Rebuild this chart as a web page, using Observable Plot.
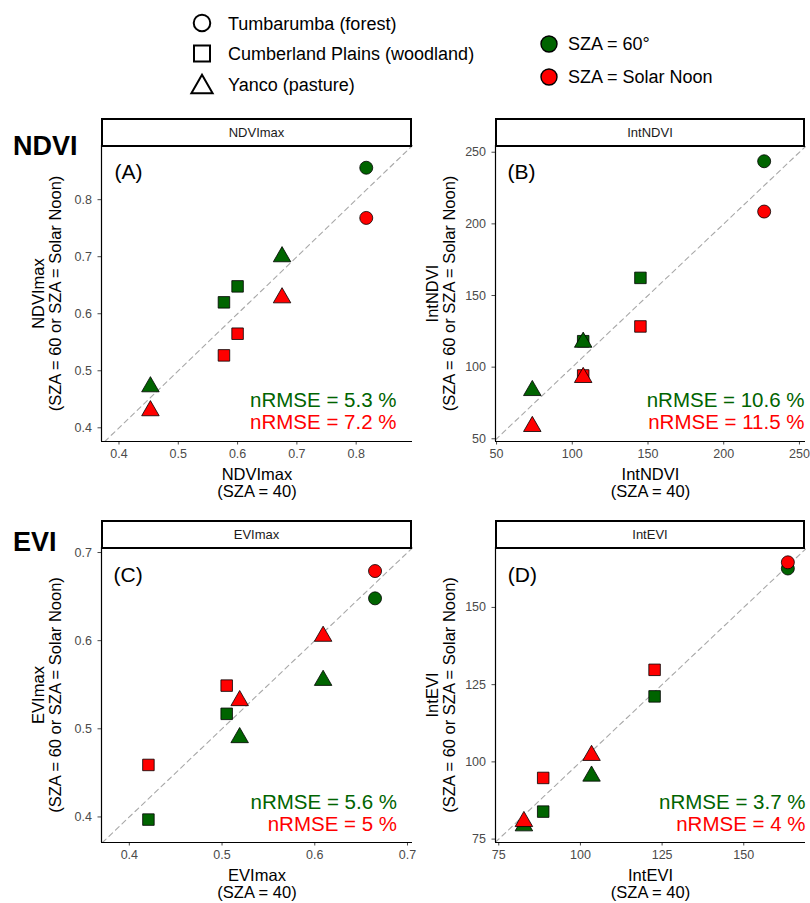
<!DOCTYPE html>
<html><head><meta charset="utf-8">
<script src="https://cdn.jsdelivr.net/npm/d3@7"></script>
<script src="https://cdn.jsdelivr.net/npm/@observablehq/plot@0.6"></script>
<style>
body{margin:0;background:#fff;font-family:"Liberation Sans",Arial,Helvetica,sans-serif;}
#wrap{position:relative;width:810px;height:903px;overflow:hidden;background:#fff;}
.pl{position:absolute;}
.strip{position:absolute;box-sizing:border-box;border:2px solid #000;background:#fff;font-size:13px;display:flex;align-items:center;justify-content:center;color:#1a1a1a;}
#overlay{position:absolute;left:0;top:0;}
</style></head><body><div id="wrap"></div>
<script>
// ---------- data ----------
const sites = ["Tumbarumba","Cumberland","Cumberland","Yanco","Yanco"];
const siteKeys = ["Tumbarumba","Cumberland","Yanco"];
const siteLabels = ["Tumbarumba (forest)","Cumberland Plains (woodland)","Yanco (pasture)"];
const seriesLabels = ["SZA = 60°","SZA = Solar Noon"];
const seriesColors = ["#006400","#ff0000"];

// (A) NDVImax
const ndviMaxX40   = [0.817, 0.577, 0.600, 0.453, 0.675];
const ndviMaxY60   = [0.856, 0.620, 0.648, 0.472, 0.700];
const ndviMaxYNoon = [0.768, 0.527, 0.565, 0.430, 0.628];
const ndviMaxTicks = [0.4, 0.5, 0.6, 0.7, 0.8];
const ndviMaxTickLabels = ["0.4","0.5","0.6","0.7","0.8"];
const ndviMaxNRMSE = ["5.3","7.2"];

// (B) IntNDVI
const intNdviX40   = [226.7, 107.2, 145.0, 73.6, 107.2];
const intNdviY60   = [243.7, 118.1, 162.3, 83.7, 117.4];
const intNdviYNoon = [208.6, 94.2, 128.4, 58.6, 92.8];
const intNdviTicks = [50, 100, 150, 200, 250];
const intNdviTickLabels = ["50","100","150","200","250"];
const intNdviNRMSE = ["10.6","11.5"];

// (C) EVImax
const eviMaxX40   = [0.665, 0.4206, 0.505, 0.519, 0.609];
const eviMaxY60   = [0.648, 0.397, 0.517, 0.490, 0.555];
const eviMaxYNoon = [0.679, 0.459, 0.549, 0.532, 0.605];
const eviMaxTicks = [0.4, 0.5, 0.6, 0.7];
const eviMaxTickLabels = ["0.4","0.5","0.6","0.7"];
const eviMaxNRMSE = ["5.6","5"];

// (D) IntEVI
const intEviX40   = [163.5, 88.6, 122.7, 82.7, 103.4];
const intEviY60   = [162.6, 83.9, 121.2, 79.3, 95.4];
const intEviYNoon = [164.6, 94.8, 129.8, 80.7, 102.1];
const intEviTicks = [75, 100, 125, 150];
const intEviTickLabels = ["75","100","125","150"];
const intEviNRMSE = ["3.7","4"];

// ---------- panels ----------
const FONT = '"Liberation Sans",Arial,Helvetica,sans-serif';
const panels = [
  {letter:"(A)", name:"NDVImax", x40:ndviMaxX40, y60:ndviMaxY60, yNoon:ndviMaxYNoon, ticks:ndviMaxTicks, tickLabels:ndviMaxTickLabels, nrmse:ndviMaxNRMSE,
   xDomain:[0.3705,0.895], yDomain:[0.376,0.895],
   left:0, top:100, w:420, h:410, mL:101, mR:8, mT:45, mB:69, ldx:13, ldy:27, ndx:-16, ndy:[-41,-19.3]},
  {letter:"(B)", name:"IntNDVI", x40:intNdviX40, y60:intNdviY60, yNoon:intNdviYNoon, ticks:intNdviTicks, tickLabels:intNdviTickLabels, nrmse:intNdviNRMSE,
   xDomain:[49.3,254], yDomain:[48.1,254.7],
   left:410, top:100, w:400, h:410, mL:85, mR:5, mT:45, mB:69, ldx:12, ldy:27, ndx:-1, ndy:[-41.5,-19.3]},
  {letter:"(C)", name:"EVImax", x40:eviMaxX40, y60:eviMaxY60, yNoon:eviMaxYNoon, ticks:eviMaxTicks, tickLabels:eviMaxTickLabels, nrmse:eviMaxNRMSE,
   xDomain:[0.370,0.7054], yDomain:[0.371,0.7057],
   left:0, top:505, w:420, h:398, mL:101, mR:8, mT:42, mB:61, ldx:12, ldy:28, ndx:-15.5, ndy:[-40,-18.4]},
  {letter:"(D)", name:"IntEVI", x40:intEviX40, y60:intEviY60, yNoon:intEviYNoon, ticks:intEviTicks, tickLabels:intEviTickLabels, nrmse:intEviNRMSE,
   xDomain:[74.0,168.9], yDomain:[73.9,169.4],
   left:410, top:505, w:400, h:398, mL:85, mR:5, mT:42, mB:61, ldx:12.3, ldy:28, ndx:0, ndy:[-40,-18.4]}
];

const wrap = document.getElementById("wrap");

panels.forEach(p => {
  const pts = [];
  [p.y60, p.yNoon].forEach((ys, s) => ys.forEach((y, i) => pts.push({x: p.x40[i], y, site: sites[i], series: seriesLabels[s]})));
  const lo = Math.max(p.xDomain[0], p.yDomain[0]);
  const hi = Math.min(p.xDomain[1], p.yDomain[1]);
  const fmt = d => p.tickLabels[p.ticks.indexOf(d)];
  const svg = Plot.plot({
    width: p.w, height: p.h,
    marginLeft: p.mL, marginRight: p.mR, marginTop: p.mT, marginBottom: p.mB,
    style: {background: "transparent", overflow: "visible", fontFamily: FONT},
    x: {domain: p.xDomain, label: null},
    y: {domain: p.yDomain, label: null},
    symbol: {domain: siteKeys, range: ["circle","square","triangle"]},
    color: {domain: seriesLabels, range: seriesColors},
    marks: [
      Plot.line([lo, hi], {x: d => d, y: d => d, stroke: "#a8a8a8", strokeWidth: 1.1, strokeDasharray: "5,4"}),
      Plot.axisX({anchor: "bottom", ticks: p.ticks, tickFormat: fmt, tickSize: 3.5, tickPadding: 4, fontSize: 12.5, color: "#4a4a4a", label: null}),
      Plot.axisY({anchor: "left", ticks: p.ticks, tickFormat: fmt, tickSize: 3.5, tickPadding: 6, fontSize: 12.5, color: "#4a4a4a", label: null}),
      Plot.ruleX([p.xDomain[0]], {stroke: "#000", strokeWidth: 1.2}),
      Plot.ruleY([p.yDomain[0]], {stroke: "#000", strokeWidth: 1.2}),
      Plot.dot(pts, {x: "x", y: "y", symbol: "site", fill: "series", stroke: "#000", strokeWidth: 0.8, r: 6.5}),
      Plot.text([p.letter], {text: d => d, frameAnchor: "top-left", dx: p.ldx, dy: p.ldy, textAnchor: "start", lineAnchor: "middle", fontSize: 21, fill: "#000"}),
      Plot.text([`nRMSE = ${p.nrmse[0]} %`], {text: d => d, frameAnchor: "bottom-right", dx: p.ndx, dy: p.ndy[0], textAnchor: "end", lineAnchor: "middle", fontSize: 20.5, fill: seriesColors[0]}),
      Plot.text([`nRMSE = ${p.nrmse[1]} %`], {text: d => d, frameAnchor: "bottom-right", dx: p.ndx, dy: p.ndy[1], textAnchor: "end", lineAnchor: "middle", fontSize: 20.5, fill: seriesColors[1]}),
      Plot.text([`${p.name}\n(SZA = 60 or SZA = Solar Noon)`], {text: d => d, frameAnchor: "left", rotate: -90, dx: -54, textAnchor: "middle", lineAnchor: "middle", lineHeight: 1.03, fontSize: 16.5, fill: "#000"}),
      Plot.text([`${p.name}\n(SZA = 40)`], {text: d => d, frameAnchor: "bottom", dy: 41.5, textAnchor: "middle", lineAnchor: "middle", lineHeight: 1.03, fontSize: 16.5, fill: "#000"})
    ]
  });
  const div = document.createElement("div");
  div.className = "pl";
  div.style.left = p.left + "px";
  div.style.top = p.top + "px";
  div.appendChild(svg);
  wrap.appendChild(div);

  const strip = document.createElement("div");
  strip.className = "strip";
  strip.style.left = (p.left + p.mL) + "px";
  strip.style.top = (p.top + p.mT - 27) + "px";
  strip.style.width = (p.w - p.mL - p.mR) + "px";
  strip.style.height = "29px";
  strip.textContent = p.name;
  wrap.appendChild(strip);
});

// ---------- legend & row labels ----------
const ov = d3.select(wrap).append("svg").attr("id", "overlay").attr("width", 810).attr("height", 110)
  .style("font-family", FONT);
const shapeTypes = [d3.symbolCircle, d3.symbolSquare, d3.symbolTriangle];
const shapeSizes = [215, 256, 195];
const shapeRowY = [23, 53.5, 87];
const textRowY = [29.5, 60, 91];
siteLabels.forEach((lab, i) => {
  ov.append("path").attr("d", d3.symbol(shapeTypes[i], shapeSizes[i])())
    .attr("transform", `translate(202,${shapeRowY[i]})`)
    .attr("fill", "none").attr("stroke", "#000").attr("stroke-width", 2);
  ov.append("text").attr("x", 228).attr("y", textRowY[i]).attr("font-size", 18).text(lab);
});
const colorRowY = [44, 77];
seriesLabels.forEach((lab, i) => {
  ov.append("circle").attr("cx", 549).attr("cy", colorRowY[i]).attr("r", 8)
    .attr("fill", seriesColors[i]).attr("stroke", "#000").attr("stroke-width", 1.4);
  ov.append("text").attr("x", 568).attr("y", colorRowY[i] + 6.3).attr("font-size", 18).text(lab);
});

const rows = d3.select(wrap).append("svg").attr("width", 100).attr("height", 903)
  .style("position", "absolute").style("left", "0px").style("top", "0px").style("font-family", FONT);
rows.append("text").attr("x", 13).attr("y", 155).attr("font-size", 27).attr("font-weight", "bold").text("NDVI");
rows.append("text").attr("x", 13).attr("y", 551).attr("font-size", 27).attr("font-weight", "bold").text("EVI");
</script></body></html>
